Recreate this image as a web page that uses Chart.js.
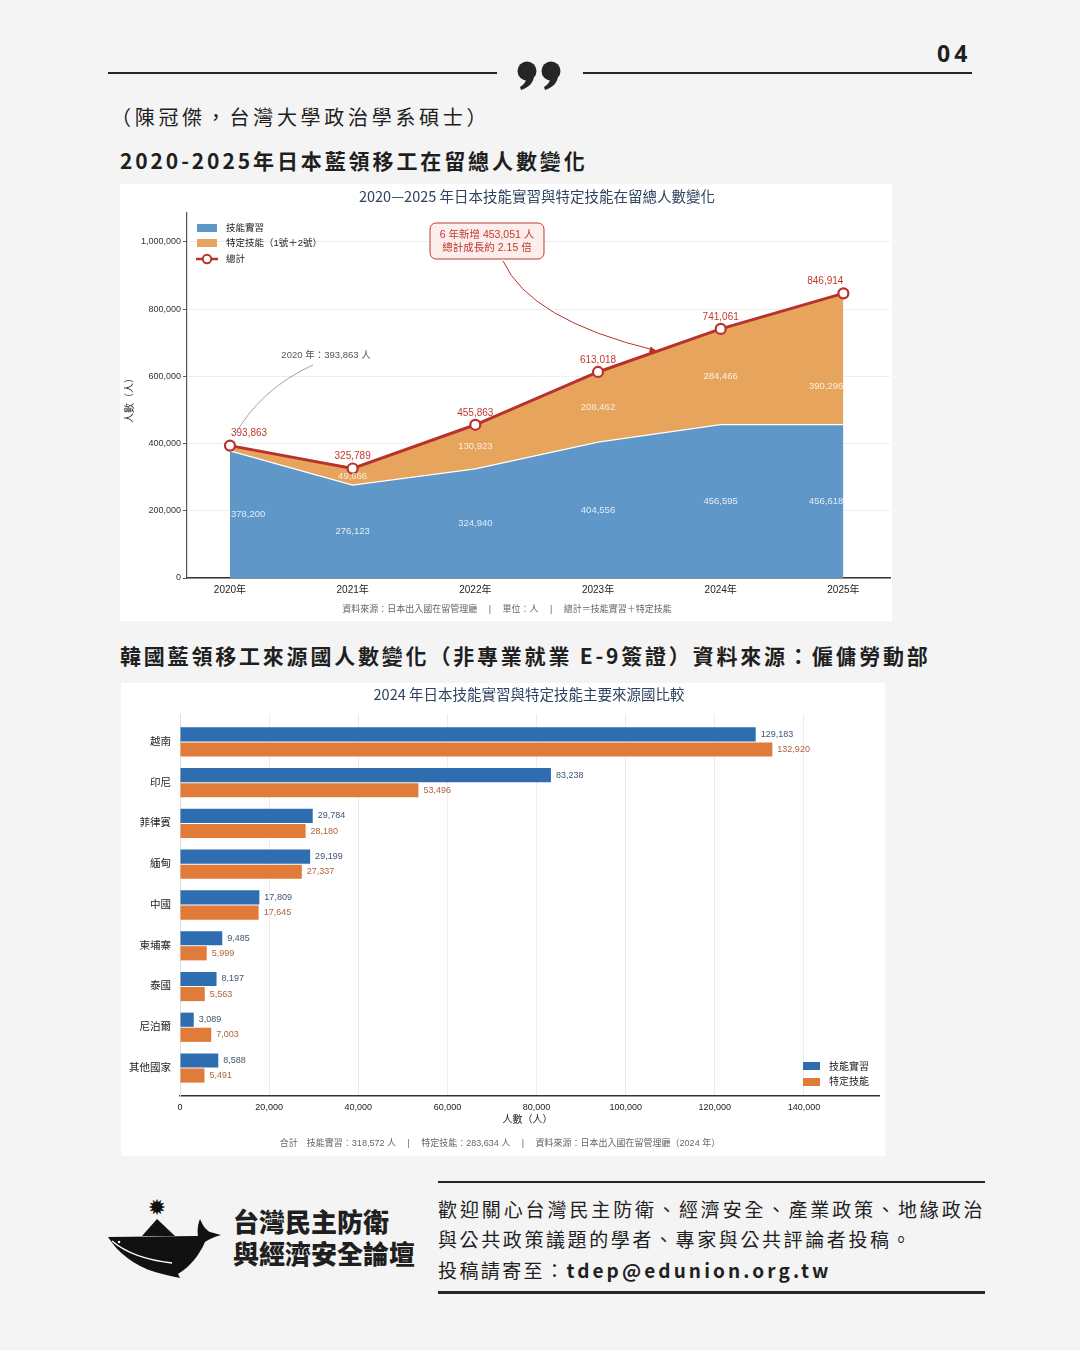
<!DOCTYPE html>
<html lang="zh-Hant">
<head>
<meta charset="utf-8">
<title>日本藍領移工在留人數</title>
<script src="https://cdn.jsdelivr.net/npm/chart.js@4.4.1/dist/chart.umd.min.js"></script>
<style>
  html, body { margin: 0; padding: 0; }
  body {
    width: 1080px; height: 1350px; position: relative; overflow: hidden;
    background: #f4f4f4; color: #1f1f1f;
    font-family: 'Noto Sans CJK TC', 'Noto Sans', sans-serif;
  }
  .t { position: absolute; line-height: 1; white-space: nowrap; transform: translateY(-50%); }
  .rule { position: absolute; background: #262626; }
  .card { position: absolute; background: #fff; }
  .card canvas { display: block; }
</style>
</head>
<body>

<div class="t" style="left:937px;top:53px;font-size:23px;font-weight:700;letter-spacing:4px;font-family:'Noto Sans','DejaVu Sans',sans-serif;">04</div>
<div class="rule" style="left:108px;top:72px;width:389px;height:2px;"></div>
<div class="rule" style="left:583px;top:72px;width:389px;height:2px;"></div>
<svg style="position:absolute;left:510px;top:56px" width="60" height="36" viewBox="0 0 60 36">
  <g fill="#262626">
    <circle cx="17" cy="15" r="9.5"/>
    <path d="M24,17 C25,25 20,31 11,34 L10,31 C15,28 17,24 16,19 Z"/>
    <circle cx="41" cy="15" r="9.5"/>
    <path d="M48,17 C49,25 44,31 35,34 L34,31 C39,28 41,24 40,19 Z"/>
  </g>
</svg>

<div class="t" style="left:111px;top:117px;font-size:20px;letter-spacing:3.7px;">（陳冠傑，台灣大學政治學系碩士）</div>
<div class="t" style="left:120px;top:160px;font-size:21px;font-weight:700;letter-spacing:2.9px;">2020-2025年日本藍領移工在留總人數變化</div>

<div class="card" style="left:120px;top:184px;width:772px;height:437px;">
  <canvas id="stayChart" width="772" height="437"></canvas>
</div>

<div class="t" style="left:120px;top:655px;font-size:21px;font-weight:700;letter-spacing:2.8px;">韓國藍領移工來源國人數變化（非專業就業 E-9簽證）資料來源：僱傭勞動部</div>

<div class="card" style="left:121px;top:683px;width:764px;height:473px;">
  <canvas id="originChart" width="764" height="473"></canvas>
</div>

<svg style="position:absolute;left:100px;top:1190px" width="130" height="100" viewBox="0 0 130 100">
  <text x="57" y="25" text-anchor="middle" font-size="22" font-family="DejaVu Sans" fill="#111">✹</text>
  <path d="M42,46 L57,29 L75,46 Z" fill="#111"/>
  <path d="M8,47 L98,46 C97,40 98,34 100,29 C103,36 106,40 110,42 L121,45 C114,47 109,49 105,52 C98,68 88,78 78,84 L80,88 C70,86 62,84 55,82 C35,76 18,63 8,47 Z" fill="#111"/>
  <path d="M12,51 C25,62 45,70 72,73" stroke="#fff" stroke-width="1.4" fill="none"/>
  <circle cx="19" cy="52" r="1.3" fill="#fff"/>
</svg>
<div class="t" style="left:233px;top:1221px;font-size:26px;font-weight:900;">台灣民主防衛</div>
<div class="t" style="left:233px;top:1253px;font-size:26px;font-weight:900;">與經濟安全論壇</div>

<div class="rule" style="left:438px;top:1181px;width:547px;height:2px;"></div>
<div class="t" style="left:438px;top:1208px;font-size:19px;letter-spacing:2.9px;">歡迎關心台灣民主防衛、經濟安全、產業政策、地緣政治</div>
<div class="t" style="left:438px;top:1238px;font-size:19px;letter-spacing:2.6px;">與公共政策議題的學者、專家與公共評論者投稿。</div>
<div class="t" style="left:438px;top:1269px;font-size:19px;letter-spacing:2.4px;">投稿請寄至：<b style="letter-spacing:3.1px;">tdep@edunion.org.tw</b></div>
<div class="rule" style="left:438px;top:1291px;width:547px;height:3px;"></div>

<script>
// --- 2020-2025 stock of trainees + specified skilled workers ---
const years = [2020, 2021, 2022, 2023, 2024, 2025];
const traineeCounts = [378200, 276123, 324940, 404556, 456595, 456618];
const sswCounts = [15663, 49666, 130923, 208462, 284466, 390296];
const totalCounts = [393863, 325789, 455863, 613018, 741061, 846914];
const stayTicks = [0, 200000, 400000, 600000, 800000, 1000000];

// --- 2024 by country ---
const countries = ['越南', '印尼', '菲律賓', '緬甸', '中國', '柬埔寨', '泰國', '尼泊爾', '其他國家'];
const traineeByCountry = [129183, 83238, 29784, 29199, 17809, 9485, 8197, 3089, 8588];
const sswByCountry = [132920, 53496, 28180, 27337, 17645, 5999, 5563, 7003, 5491];
const countryTicks = [0, 20000, 40000, 60000, 80000, 100000, 120000, 140000];

const SANS = "'Liberation Sans', 'Noto Sans CJK TC', sans-serif";
const CJK = "'Noto Sans CJK TC', 'Liberation Sans', sans-serif";
const fmt = v => Number(v).toLocaleString('en-US');

const BLUE = '#5f97c9';
const ORANGE = '#e6a45c';
const RED = '#b8322c';

function txt(ctx, s, x, y, font, color, align) {
    ctx.font = font;
    ctx.fillStyle = color;
    ctx.textAlign = align || 'center';
    ctx.textBaseline = 'middle';
    ctx.fillText(s, x, y);
}

const stayDecor = {
    id: 'stayDecor',
    afterDatasetsDraw(chart) {
        const ctx = chart.ctx;
        const xs = chart.scales.x, ys = chart.scales.y;
        const last = years.length - 1;
        ctx.save();

        years.forEach((yr, i) => {
            const x = xs.getPixelForValue(yr);
            const align = i === 0 ? 'left' : i === last ? 'right' : 'center';
            const lx = i === 0 ? x + 1 : x;
            txt(ctx, fmt(traineeCounts[i]), lx, ys.getPixelForValue(traineeCounts[i] / 2),
                '9.5px ' + SANS, 'rgba(255,255,255,0.82)', align);
            if (i > 0) {
                let oy = ys.getPixelForValue(traineeCounts[i] + sswCounts[i] / 2);
                if (i === last) oy += 27;
                txt(ctx, fmt(sswCounts[i]), lx, oy, '9.5px ' + SANS, 'rgba(255,255,255,0.82)', align);
            }
            txt(ctx, fmt(totalCounts[i]), lx, ys.getPixelForValue(totalCounts[i]) - 12,
                '10px ' + SANS, '#c0392b', align);
        });

        // note on the first year
        const p0x = xs.getPixelForValue(years[0]), p0y = ys.getPixelForValue(totalCounts[0]);
        ctx.strokeStyle = '#8a8a8a';
        ctx.lineWidth = 0.8;
        ctx.beginPath();
        ctx.moveTo(193, 181);
        ctx.quadraticCurveTo(140, 205, p0x + 4, p0y - 9);
        ctx.stroke();
        txt(ctx, '2020 年：393,863 人', 206, 171, '9.5px ' + SANS, '#555');

        // growth call-out
        const bx = 310, by = 39, bw = 114, bh = 36;
        ctx.beginPath();
        ctx.roundRect(bx, by, bw, bh, 6);
        ctx.fillStyle = '#fdeeee';
        ctx.fill();
        ctx.strokeStyle = '#c0392b';
        ctx.lineWidth = 1;
        ctx.stroke();
        txt(ctx, '6 年新增 453,051 人', bx + bw / 2, by + 12, '10.5px ' + SANS, '#c0392b');
        txt(ctx, '總計成長約 2.15 倍', bx + bw / 2, by + 25, '10.5px ' + SANS, '#c0392b');

        const t = 0.48;
        const ex = xs.getPixelForValue(2023 + t);
        const ey = ys.getPixelForValue(totalCounts[3] + t * (totalCounts[4] - totalCounts[3]));
        const sx = 383, sy = 77, cx = 410, cy = 136;
        ctx.strokeStyle = '#b8322c';
        ctx.lineWidth = 1;
        ctx.beginPath();
        ctx.moveTo(sx, sy);
        ctx.quadraticCurveTo(cx, cy, ex - 2, ey - 1);
        ctx.stroke();
        const ang = Math.atan2(ey - cy, ex - cx);
        ctx.fillStyle = '#b8322c';
        ctx.beginPath();
        ctx.moveTo(ex, ey);
        ctx.lineTo(ex - 8 * Math.cos(ang - 0.4), ey - 8 * Math.sin(ang - 0.4));
        ctx.lineTo(ex - 8 * Math.cos(ang + 0.4), ey - 8 * Math.sin(ang + 0.4));
        ctx.closePath();
        ctx.fill();

        // legend
        ctx.fillStyle = BLUE;
        ctx.fillRect(77, 40, 20, 8);
        ctx.fillStyle = ORANGE;
        ctx.fillRect(77, 55, 20, 8);
        ctx.strokeStyle = RED;
        ctx.lineWidth = 2.5;
        ctx.beginPath();
        ctx.moveTo(76, 75);
        ctx.lineTo(98, 75);
        ctx.stroke();
        ctx.beginPath();
        ctx.arc(87, 75, 4.2, 0, Math.PI * 2);
        ctx.fillStyle = '#fff';
        ctx.fill();
        ctx.lineWidth = 2;
        ctx.stroke();
        txt(ctx, '技能實習', 106, 44, '9.5px ' + SANS, '#222', 'left');
        txt(ctx, '特定技能（1號＋2號）', 106, 59, '9.5px ' + SANS, '#222', 'left');
        txt(ctx, '總計', 106, 75, '9.5px ' + SANS, '#222', 'left');

        // titles and notes
        txt(ctx, '2020—2025 年日本技能實習與特定技能在留總人數變化', 417, 12, '14.5px ' + CJK, '#2f4360');
        ctx.save();
        ctx.translate(10, 214);
        ctx.rotate(-Math.PI / 2);
        txt(ctx, '人數（人）', 0, 0, '10px ' + SANS, '#333');
        ctx.restore();
        txt(ctx, '資料來源：日本出入國在留管理廳　 |　 單位：人　 |　 總計＝技能實習＋特定技能',
            387, 426, '9px ' + SANS, '#666');
        ctx.restore();
    }
};

new Chart(document.getElementById('stayChart'), {
    type: 'line',
    data: {
        datasets: [{
            label: '技能實習',
            data: years.map((yr, i) => ({ x: yr, y: traineeCounts[i] })),
            backgroundColor: BLUE,
            borderColor: '#ffffff',
            borderWidth: 1.3,
            pointRadius: 0,
            fill: 'origin',
            stack: 'area',
            order: 1
        }, {
            label: '特定技能（1號＋2號）',
            data: years.map((yr, i) => ({ x: yr, y: sswCounts[i] })),
            backgroundColor: ORANGE,
            borderWidth: 0,
            pointRadius: 0,
            fill: '-1',
            stack: 'area',
            order: 2
        }, {
            label: '總計',
            data: years.map((yr, i) => ({ x: yr, y: totalCounts[i] })),
            borderColor: RED,
            borderWidth: 3,
            pointRadius: 5,
            pointBackgroundColor: '#ffffff',
            pointBorderColor: RED,
            pointBorderWidth: 2.2,
            fill: false,
            stack: 'total',
            order: 0
        }]
    },
    options: {
        responsive: false,
        animation: false,
        layout: { autoPadding: false, padding: { top: 29, right: 2, left: 0, bottom: 0 } },
        plugins: {
            legend: { display: false },
            tooltip: { enabled: false },
            title: { display: false }
        },
        scales: {
            x: {
                type: 'linear',
                min: 2019.65,
                max: 2025.38,
                afterBuildTicks: s => { s.ticks = years.map(v => ({ value: v })); },
                afterFit: s => { s.height = 43; s.paddingRight = 0; s.paddingLeft = 0; },
                grid: { display: false, drawTicks: false },
                border: { color: '#333', width: 1.5 },
                ticks: {
                    padding: 6,
                    color: '#222',
                    font: { size: 10, family: SANS },
                    callback: v => v + '年'
                }
            },
            y: {
                stacked: true,
                min: 0,
                max: 1086000,
                afterBuildTicks: s => { s.ticks = stayTicks.map(v => ({ value: v })); },
                afterFit: s => { s.width = 67; },
                grid: { color: '#eeeeee', tickColor: '#555', tickLength: 4 },
                border: { color: '#555', width: 1.2 },
                ticks: {
                    padding: 2,
                    color: '#333',
                    font: { size: 9, family: SANS },
                    callback: v => fmt(v)
                }
            }
        }
    },
    plugins: [stayDecor]
});

const originDecor = {
    id: 'originDecor',
    afterDatasetsDraw(chart) {
        const ctx = chart.ctx;
        const xs = chart.scales.x;
        ctx.save();
        const colors = ['#3f5573', '#b0633a'];
        [traineeByCountry, sswByCountry].forEach((vals, d) => {
            chart.getDatasetMeta(d).data.forEach((bar, i) => {
                txt(ctx, fmt(vals[i]), bar.x + 5, bar.y, '9px ' + SANS, colors[d], 'left');
            });
        });

        ctx.fillStyle = '#2f6db1';
        ctx.fillRect(682, 379, 17, 8);
        ctx.fillStyle = '#e07b3a';
        ctx.fillRect(682, 395, 17, 8);
        txt(ctx, '技能實習', 708, 384, '10px ' + SANS, '#222', 'left');
        txt(ctx, '特定技能', 708, 399, '10px ' + SANS, '#222', 'left');

        txt(ctx, '人數（人）', (xs.left + xs.right) / 2 - 2, 437, '10px ' + SANS, '#222');
        txt(ctx, '2024 年日本技能實習與特定技能主要來源國比較', 408, 11, '14.5px ' + CJK, '#2f4360');
        txt(ctx, '合計　技能實習：318,572 人　 |　 特定技能：283,634 人　 |　 資料來源：日本出入國在留管理廳（2024 年）',
            379, 461, '9px ' + SANS, '#666');
        ctx.restore();
    }
};

new Chart(document.getElementById('originChart'), {
    type: 'bar',
    data: {
        datasets: [{
            label: '技能實習',
            data: traineeByCountry.map((v, i) => ({ x: v, y: i })),
            backgroundColor: '#2f6db1'
        }, {
            label: '特定技能',
            data: sswByCountry.map((v, i) => ({ x: v, y: i })),
            backgroundColor: '#e07b3a'
        }]
    },
    options: {
        indexAxis: 'y',
        responsive: false,
        animation: false,
        categoryPercentage: 0.74,
        barPercentage: 0.94,
        layout: { padding: { top: 31, right: 6, left: 0, bottom: 0 } },
        plugins: {
            legend: { display: false },
            tooltip: { enabled: false }
        },
        scales: {
            x: {
                type: 'linear',
                min: 0,
                max: 156850,
                afterBuildTicks: s => { s.ticks = countryTicks.map(v => ({ value: v })); },
                afterFit: s => { s.height = 60; },
                grid: { color: '#ececec', drawTicks: false },
                border: { color: '#333', width: 1.5 },
                ticks: {
                    padding: 6,
                    color: '#222',
                    font: { size: 9, family: SANS },
                    callback: v => fmt(v)
                }
            },
            y: {
                type: 'linear',
                reverse: true,
                offset: false,
                min: -0.687,
                max: 8.687,
                afterBuildTicks: s => { s.ticks = countries.map((c, i) => ({ value: i })); },
                afterFit: s => { s.width = 59; },
                grid: { display: false, drawTicks: false, offset: false },
                border: { color: '#dddddd', width: 1 },
                ticks: {
                    padding: 9,
                    color: '#222',
                    font: { size: 10.5, family: SANS },
                    callback: v => countries[v] ?? ''
                }
            }
        }
    },
    plugins: [originDecor]
});
</script>
</body>
</html>
